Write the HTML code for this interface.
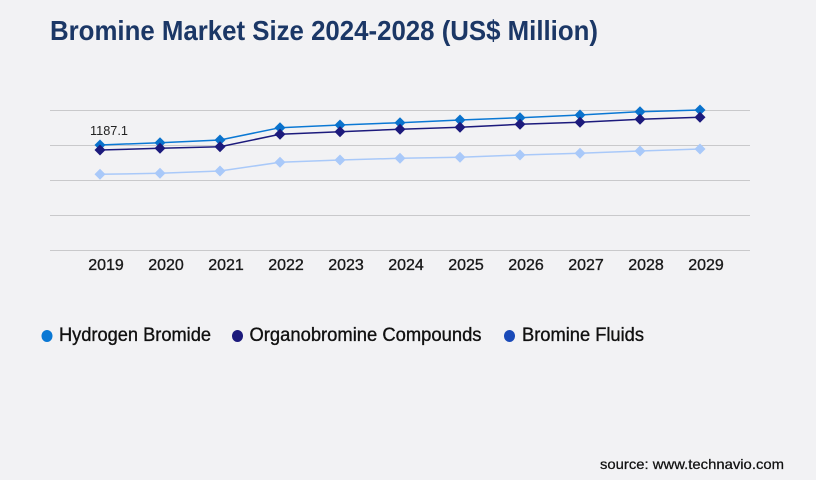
<!DOCTYPE html>
<html><head><meta charset="utf-8"><style>
html,body{margin:0;padding:0;background:#f2f2f4;}
svg{display:block;}
</style></head><body>
<svg width="816" height="480" viewBox="0 0 816 480" xmlns="http://www.w3.org/2000/svg">
<rect x="0" y="0" width="816" height="480" fill="#f2f2f4"/>
<text x="50" y="40" font-family="Liberation Sans, sans-serif" font-weight="bold" font-size="28" fill="#1b3766" textLength="548" lengthAdjust="spacingAndGlyphs">Bromine Market Size 2024-2028 (US$ Million)</text>
<g stroke="#c9c9cb" stroke-width="1">
<line x1="50" y1="110.5" x2="750" y2="110.5"/>
<line x1="50" y1="145.5" x2="750" y2="145.5"/>
<line x1="50" y1="180.5" x2="750" y2="180.5"/>
<line x1="50" y1="215.5" x2="750" y2="215.5"/>
<line x1="50" y1="250.5" x2="750" y2="250.5"/>
</g>
<g font-family="Liberation Sans, sans-serif" font-size="16" fill="#1a1a1a" stroke="#1a1a1a" stroke-width="0.35" text-anchor="middle">
<text x="106" y="270">2019</text>
<text x="166" y="270">2020</text>
<text x="226" y="270">2021</text>
<text x="286" y="270">2022</text>
<text x="346" y="270">2023</text>
<text x="406" y="270">2024</text>
<text x="466" y="270">2025</text>
<text x="526" y="270">2026</text>
<text x="586" y="270">2027</text>
<text x="646" y="270">2028</text>
<text x="706" y="270">2029</text>
</g>
<text x="90" y="135" font-family="Liberation Sans, sans-serif" font-size="13" fill="#222" textLength="38" lengthAdjust="spacingAndGlyphs">1187.1</text>
<defs>
<path id="d" d="M0,-5.5 L5.5,0 L0,5.5 L-5.5,0 Z"/>
</defs>
<polyline fill="none" stroke="#a9c9f9" stroke-width="1.5" points="100,174.3 160,173.3 220,171 280,162.3 340,160 400,158.3 460,157.3 520,155 580,153.3 640,151 700,149"/>
<g fill="#a9c9f9">
<use href="#d" x="100" y="174.3"/><use href="#d" x="160" y="173.3"/><use href="#d" x="220" y="171"/><use href="#d" x="280" y="162.3"/><use href="#d" x="340" y="160"/><use href="#d" x="400" y="158.3"/><use href="#d" x="460" y="157.3"/><use href="#d" x="520" y="155"/><use href="#d" x="580" y="153.3"/><use href="#d" x="640" y="151"/><use href="#d" x="700" y="149"/>
</g>
<polyline fill="none" stroke="#0a78d4" stroke-width="1.5" points="100,145 160,142.7 220,140 280,127.7 340,125 400,122.7 460,120 520,117.7 580,115 640,111.7 700,110"/>
<g fill="#0a72cc">
<use href="#d" x="100" y="145"/><use href="#d" x="160" y="142.7"/><use href="#d" x="220" y="140"/><use href="#d" x="280" y="127.7"/><use href="#d" x="340" y="125"/><use href="#d" x="400" y="122.7"/><use href="#d" x="460" y="120"/><use href="#d" x="520" y="117.7"/><use href="#d" x="580" y="115"/><use href="#d" x="640" y="111.7"/><use href="#d" x="700" y="110"/>
</g>
<polyline fill="none" stroke="#1c1a7c" stroke-width="1.5" points="100,150 160,148.3 220,146.7 280,134.3 340,131.7 400,129.3 460,127.3 520,124.3 580,122.3 640,119.3 700,117.3"/>
<g fill="#1c1a7c">
<use href="#d" x="100" y="150"/><use href="#d" x="160" y="148.3"/><use href="#d" x="220" y="146.7"/><use href="#d" x="280" y="134.3"/><use href="#d" x="340" y="131.7"/><use href="#d" x="400" y="129.3"/><use href="#d" x="460" y="127.3"/><use href="#d" x="520" y="124.3"/><use href="#d" x="580" y="122.3"/><use href="#d" x="640" y="119.3"/><use href="#d" x="700" y="117.3"/>
</g>
<ellipse cx="47" cy="336" rx="5.5" ry="6" fill="#0a78d4"/>
<g font-family="Liberation Sans, sans-serif" font-size="19" fill="#111" stroke="#111" stroke-width="0.35">
<text x="59" y="341" textLength="152" lengthAdjust="spacingAndGlyphs">Hydrogen Bromide</text>
<text x="249.5" y="341" textLength="232" lengthAdjust="spacingAndGlyphs">Organobromine Compounds</text>
<text x="522" y="341" textLength="122" lengthAdjust="spacingAndGlyphs">Bromine Fluids</text>
</g>
<ellipse cx="237.5" cy="336" rx="5.5" ry="6" fill="#1c1a7c"/>
<ellipse cx="509.5" cy="336" rx="5.5" ry="6" fill="#1a4ab8"/>
<text x="600" y="469" font-family="Liberation Sans, sans-serif" font-size="14" fill="#111" stroke="#111" stroke-width="0.25" textLength="184" lengthAdjust="spacingAndGlyphs">source: www.technavio.com</text>
</svg>
</body></html>
